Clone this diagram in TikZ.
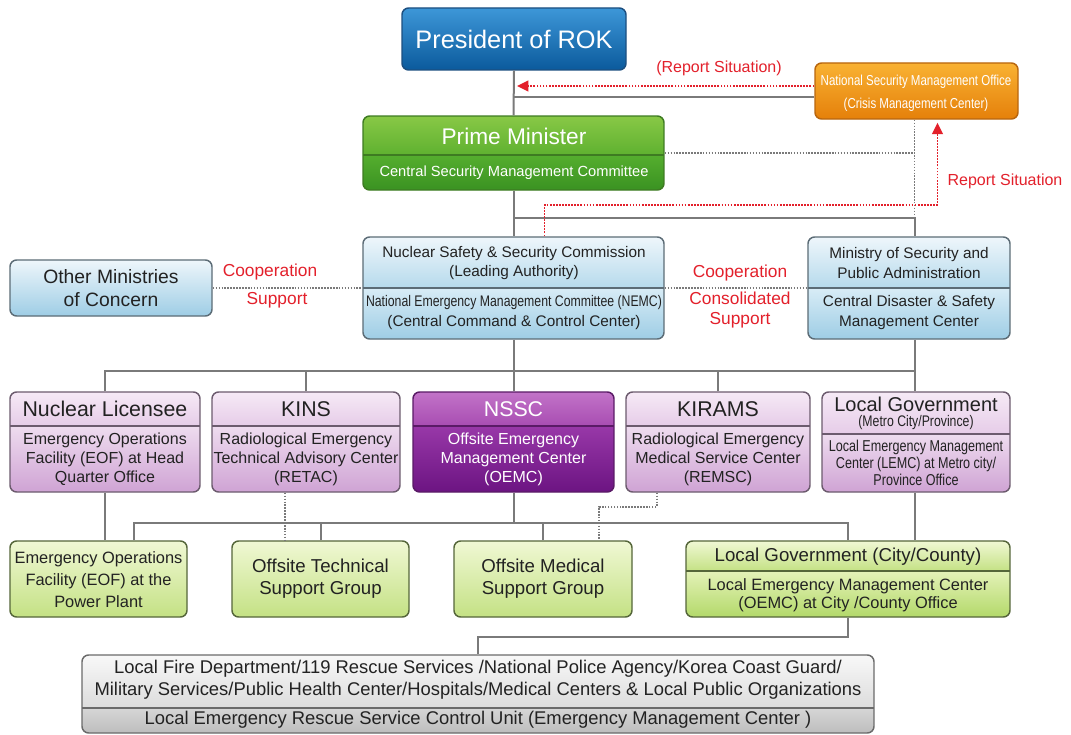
\documentclass[tikz,border=0pt]{standalone}
\usepackage{fontspec}
\setmainfont{Liberation Sans}
\newfontfamily\condfont{Liberation Sans}[FakeStretch=0.8]
\usetikzlibrary{fit,calc,arrows.meta}
\definecolor{gline}{HTML}{7A7A7A}
\definecolor{rred}{HTML}{E3202B}
\definecolor{txt}{HTML}{222222}
\newcommand\twopart[9]{%
  \begin{scope}
    \clip[rounded corners=5pt] (#2,#3) rectangle (#4,#5);
    \shade[#7] (#2,#3) rectangle (#4,#6);
    \shade[#8] (#2,#6) rectangle (#4,#5);
  \end{scope}
  \draw[#9, line width=1pt] (#2,#6) -- (#4,#6);
  \node[bx, #9, fit={(#2,#3) (#4,#5)}] (#1) {};
}
\newcommand\fs[2]{\fontsize{#1}{#2}\selectfont}
\begin{document}
\begin{tikzpicture}[x=0.75pt,y=-0.75pt,
  gl/.style={draw=gline, line width=1.5pt},
  gdot/.style={draw=gline, line width=1.2pt, densely dotted},
  rdot/.style={draw=rred, line width=1.3pt, densely dotted},
  rarrow/.style={rdot, -{Triangle[length=8.5pt,width=8pt]}},
  bx/.style={inner sep=0pt, rounded corners=5pt, line width=1.1pt},
  tb/.style={inner sep=0pt, align=center, text=txt},
  tw/.style={inner sep=0pt, align=center, text=white},
  tr/.style={inner sep=0pt, align=center, text=rred},
  purpA/.style={top color=F6EAF6, bottom color=E6CCE8},
  purpB/.style={top color=EEDCEF, bottom color=CFA3D4},
  greenA/.style={top color=F0F8D4, bottom color=C4E184},
  greenB/.style={top color=E4F2B8, bottom color=B3D96A},
]
\definecolor{EEF6FB}{HTML}{EEF6FB}\definecolor{BCDDEE}{HTML}{B6DAEC}
\definecolor{D8ECF6}{HTML}{D8ECF6}\definecolor{A4D0E6}{HTML}{9ECDE5}
\definecolor{F6EAF6}{HTML}{F6EAF6}\definecolor{E6CCE8}{HTML}{E6CCE8}
\definecolor{EEDCEF}{HTML}{EEDCEF}\definecolor{CFA3D4}{HTML}{CFA3D4}
\definecolor{F0F8D4}{HTML}{F0F8D4}\definecolor{C4E184}{HTML}{C4E184}
\definecolor{E4F2B8}{HTML}{E4F2B8}\definecolor{B3D96A}{HTML}{B3D96A}
\definecolor{blueb}{HTML}{5C6C76}\definecolor{purpb}{HTML}{6C5B6E}
\definecolor{greenb}{HTML}{55663A}\definecolor{grayb}{HTML}{6A6A6A}
\definecolor{presa}{HTML}{3D97D8}\definecolor{presb}{HTML}{0B5A9C}\definecolor{presd}{HTML}{1C4F80}
\definecolor{nsa}{HTML}{F9B233}\definecolor{nsb}{HTML}{E5800A}\definecolor{nsd}{HTML}{B8660F}
\definecolor{pma}{HTML}{88C846}\definecolor{pmb}{HTML}{5FB130}\definecolor{pmc}{HTML}{55AE2E}\definecolor{pme}{HTML}{3A9222}\definecolor{pmd}{HTML}{3E7B22}
\definecolor{dpa}{HTML}{C273C8}\definecolor{dpb}{HTML}{A84DB2}\definecolor{dpc}{HTML}{9838A8}\definecolor{dpe}{HTML}{6C1482}\definecolor{dpd}{HTML}{5A1A66}
\definecolor{gya}{HTML}{F8F8F8}\definecolor{gyb}{HTML}{DCDCDC}\definecolor{gyc}{HTML}{D6D6D6}\definecolor{gye}{HTML}{BDBDBD}

\fill[white] (0,0) rectangle (1071,735);
\useasboundingbox (0,0) rectangle (1071,735);

% ---------- boxes ----------
\node[bx, fit={(402,8) (626,70)}, draw=presd, top color=presa, bottom color=presb] (pres) {};
\node[bx, fit={(815,63) (1018,119)}, draw=nsd, top color=nsa, bottom color=nsb] (nsmo) {};
\twopart{pm}{363}{116}{664}{190}{155}{top color=pma,bottom color=pmb}{top color=pmc,bottom color=pme}{draw=pmd}
\twopart{lead}{363}{237}{664}{339}{288}{top color=EEF6FB,bottom color=BCDDEE}{top color=D8ECF6,bottom color=A4D0E6}{draw=blueb}
\twopart{msa}{808}{237}{1010}{339}{288}{top color=EEF6FB,bottom color=BCDDEE}{top color=D8ECF6,bottom color=A4D0E6}{draw=blueb}
\node[bx, fit={(10,260) (212,316)}, draw=blueb, top color=EEF6FB, bottom color=A4D0E6] (omc) {};

\twopart{lic}{10}{392}{200}{492}{426}{purpA}{purpB}{draw=purpb}
\twopart{kins}{212}{392}{400}{492}{426}{purpA}{purpB}{draw=purpb}
\twopart{nsscp}{413}{392}{614}{492}{426}{top color=dpa,bottom color=dpb}{top color=dpc,bottom color=dpe}{draw=dpd}
\twopart{kir}{626}{392}{810}{492}{426}{purpA}{purpB}{draw=purpb}
\twopart{lgm}{822}{392}{1010}{492}{434}{purpA}{purpB}{draw=purpb}

\node[bx, fit={(10,541) (187,617)}, draw=greenb, greenA] (eof) {};
\node[bx, fit={(232,541) (409,617)}, draw=greenb, greenA] (ots) {};
\node[bx, fit={(454,541) (632,617)}, draw=greenb, greenA] (oms) {};
\twopart{lgc}{686}{541}{1010}{617}{571}{greenA}{greenB}{draw=greenb}

\twopart{loc}{82}{655}{874}{733}{708}{top color=gya,bottom color=gyb}{top color=gyc,bottom color=gye}{draw=grayb}

% ---------- texts ----------
\node[tw, font=\fs{19}{22}] (prest) at (pres) {President of ROK};
\node[tw, font=\condfont\fs{10.8}{17}] (nsmot) at (916,93) {National Security Management Office\\(Crisis Management Center)};
\node[tw, font=\fs{17}{20}] (pmt) at (514,136) {Prime Minister};
\node[tw, font=\fs{11}{13}] (pmct) at (514,173) {Central Security Management Committee};
\node[tr, font=\fs{12}{14}] (rs1) at (719,68) {(Report Situation)};
\node[tr, font=\fs{12}{14}] (rs2) at (1005,181) {Report Situation};

\node[tb, font=\fs{14.5}{17}] (omct) at (omc) {Other Ministries\\of Concern};
\node[tr, font=\fs{13}{15}] (co1) at (270,272) {Cooperation};
\node[tr, font=\fs{13}{15}] (su1) at (277,300) {Support};
\node[tr, font=\fs{13}{15}] (co2) at (740,273) {Cooperation};
\node[tr, font=\fs{13}{15}] (cs2) at (740,310.5) {Consolidated\\Support};

\node[tb, font=\fs{11.5}{14.3}] (leadt) at (514,263) {Nuclear Safety \& Security Commission\\(Leading Authority)};
\node[tb, font=\fs{11.5}{15}] (leadb) at (514,313) {{\condfont National Emergency Management Committee (NEMC)}\\(Central Command \& Control Center)};
\node[tb, font=\fs{11.5}{14.3}] (msat) at (909,263) {Ministry of Security and\\Public Administration};
\node[tb, font=\fs{11.5}{15}] (msab) at (909,313) {Central Disaster \& Safety\\Management Center};

\node[tb, font=\fs{16}{18}] (lict) at (105,409) {Nuclear Licensee};
\node[tb, font=\fs{12}{14.3}] (licb) at (105,459) {Emergency Operations\\Facility (EOF) at Head\\Quarter Office};
\node[tb, font=\fs{16}{18}] (kinst) at (306,409) {KINS};
\node[tb, font=\fs{12}{14.3}] (kinsb) at (306,459) {Radiological Emergency\\Technical Advisory Center\\(RETAC)};
\node[tw, font=\fs{16}{18}] (nssct) at (513.5,409) {NSSC};
\node[tw, font=\fs{12}{14.3}] (nsscb) at (513.5,459) {Offsite Emergency\\Management Center\\(OEMC)};
\node[tb, font=\fs{16}{18}] (kirt) at (718,409) {KIRAMS};
\node[tb, font=\fs{12}{14.3}] (kirb) at (718,459) {Radiological Emergency\\Medical Service Center\\(REMSC)};
\node[tb, font=\fs{15}{17}] (lgmt) at (916,404) {Local Government};
\node[tb, font=\condfont\fs{11.5}{13}] (lgms) at (916,423) {(Metro City/Province)};
\node[tb, font=\condfont\fs{11.8}{12.8}] (lgmb) at (916,463) {Local Emergency Management\\Center (LEMC) at Metro city/\\Province Office};

\node[tb, font=\fs{12.3}{16.5}] (eoft) at (98.5,580) {Emergency Operations\\Facility (EOF) at the\\Power Plant};
\node[tb, font=\fs{14}{16.5}] (otst) at (ots) {Offsite Technical\\Support Group};
\node[tb, font=\fs{14}{16.5}] (omst) at (oms) {Offsite Medical\\Support Group};
\node[tb, font=\fs{14}{16}] (lgct) at (848,557) {Local Government (City/County)};
\node[tb, font=\fs{12.3}{13.5}] (lgcb) at (848,595) {Local Emergency Management Center\\(OEMC) at City /County Office};

\node[tb, font=\fs{13.8}{16.5}] (loct) at (478,680) {Local Fire Department/119 Rescue Services /National Police Agency/Korea Coast Guard/\\Military Services/Public Health Center/Hospitals/Medical Centers \& Local Public Organizations};
\node[tb, font=\fs{13.8}{16}] (locb) at (478,720) {Local Emergency Rescue Service Control Unit (Emergency Management Center )};

% ---------- connectors ----------
\draw[gl] (pres.south) -- (pm.north);
\draw[gl] (pm.south) -- (lead.north);
\coordinate (g1) at ($(nsmo.west)+(0,6)$);
\draw[gl] (g1) -- (g1 -| pres.south);
\coordinate (r0) at ($(nsmo.west)+(0,-5)$);
\draw[rarrow] (r0) -- ($(r0 -| pres.south)+(3,0)$);

\coordinate (jr) at ($(nsmo.south)+(-2,98)$);
\draw[gdot] (pm.east) -- (pm.east -| jr);
\draw[gdot] (nsmo.south -| jr) -- (jr);
\draw[gl] (pm.south |- jr) -- (jr) -- (jr |- msa.north);
\coordinate (rj) at ($(nsmo.south)+(21,85)$);
\draw[rarrow] ($(lead.north)+(31,0)$) |- (rj) -- ($(rj |- nsmo.south)+(0,3)$);

\draw[gdot] (omc.east) -- (lead.west |- omc.east);
\draw[gdot] (lead.east) -- (msa.west);

\coordinate (h3) at ($(lead.south)+(0,31)$);
\draw[gl] (lead.south) -- (nsscp.north);
\draw[gl] (lic.north) -- (lic.north |- h3) -- (jr |- h3);
\draw[gl] (kins.north) -- (kins.north |- h3);
\draw[gl] (kir.north) -- (kir.north |- h3);
\draw[gl] (jr |- msa.south) -- (jr |- lgm.north);

\draw[gl] (lic.south) -- (lic.south |- eof.north);
\coordinate (h4) at ($(nsscp.south)+(0,30)$);
\draw[gl] (nsscp.south) -- (h4);
\coordinate (e4) at ($(eof.north)+(35.5,0)$);
\draw[gl] (e4) |- (lgc.north |- h4) -- (lgc.north);
\draw[gl] (ots.north) -- (ots.north |- h4);
\draw[gl] (oms.north) -- (oms.north |- h4);
\coordinate (kd) at ($(kins.south)+(-21,0)$);
\draw[gdot] (kd) -- (kd |- ots.north);
\coordinate (kr) at ($(kir.south)+(-61,0)$);
\coordinate (km) at ($(oms.north)+(56,0)$);
\draw[gdot] (kr) -- ++(0,14) -| (km);
\draw[gl] (jr |- lgm.south) -- (jr |- lgc.north);
\draw[gl] (lgc.south) -- ++(0,19) -| (loc.north);
\end{tikzpicture}
\end{document}
